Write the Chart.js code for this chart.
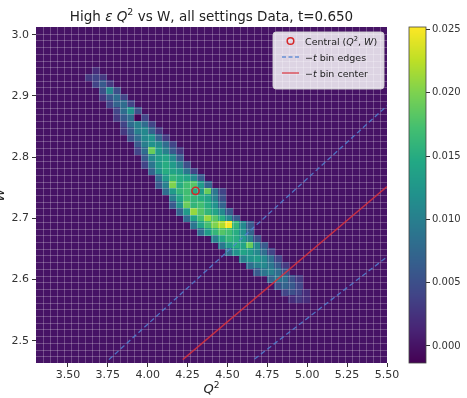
<!DOCTYPE html>
<html><head><meta charset="utf-8">
<script src="https://cdn.jsdelivr.net/npm/chart.js@4.4.0/dist/chart.umd.min.js"></script>
<style>
html,body{margin:0;padding:0;background:#fff;}
#wrap{position:relative;width:467px;height:398px;overflow:hidden;}
#main{position:absolute;left:0;top:0;}
#cbar{position:absolute;left:400px;top:0;}
</style></head><body>
<div id="wrap"><canvas id="main" width="467" height="398"></canvas><canvas id="cbar" width="67" height="398"></canvas></div>
<script>
// ---- data ----
const Q2_RANGE = [3.30, 5.50];
const W_RANGE = [2.4635, 3.0128];
const N_Q2_BINS = 50;
const N_W_BINS = 50;
const xTicks = [3.50, 3.75, 4.00, 4.25, 4.50, 4.75, 5.00, 5.25, 5.50];
const yTicks = [2.5, 2.6, 2.7, 2.8, 2.9, 3.0];
const cbTicks = [0.000, 0.005, 0.010, 0.015, 0.020, 0.025];
const CB_RANGE = [-0.00135, 0.0252];
// histogram rows (row index counted from the top W bin), first Q2 bin, values
const bandRows = [6,7,8,9,10,11,12,13,14,15,16,17,18,19,20,21,22,23,24,25,26,27,28,29,30,31,32,33,34,35,36,37,38,39,40];
const bandStartCol = [8,7,8,9,9,10,11,11,12,12,13,14,14,15,15,16,17,17,18,19,19,20,21,22,23,25,26,27,29,30,31,33,34,35,36];
const bandValues = [
  [0.002],
  [0.003,0.004,0.003],
  [0.004,0.006,0.003],
  [0.005,0.011,0.005],
  [0.003,0.006,0.008,0.004],
  [0.004,0.007,0.008,0.004],
  [0.004,0.008,0.012,0.005],
  [0.003,0.006,0.008,-0.0012,0.004],
  [0.004,0.008,0.010,0.008,0.004],
  [0.003,0.006,0.010,0.011,0.007,0.003],
  [0.005,0.008,0.011,0.012,0.007,0.003],
  [0.006,0.010,0.012,0.011,0.008,0.004],
  [0.004,0.008,0.019,0.013,0.010,0.006,0.003],
  [0.006,0.011,0.013,0.014,0.011,0.006],
  [0.004,0.009,0.013,0.015,0.013,0.010,0.005],
  [0.007,0.012,0.015,0.014,0.013,0.009,0.004],
  [0.008,0.013,0.016,0.015,0.014,0.011,0.006],
  [0.006,0.010,0.020,0.015,0.017,0.018,0.013,0.007],
  [0.008,0.013,0.016,0.017,0.015,0.013,0.019,0.009,0.004],
  [0.010,0.014,0.017,0.016,0.015,0.014,0.010,0.005],
  [0.006,0.012,0.019,0.016,0.017,0.015,0.012,0.007],
  [0.007,0.013,0.021,0.018,0.016,0.014,0.011,0.006],
  [0.008,0.014,0.017,0.021,0.018,0.015,0.011,0.006],
  [0.009,0.014,0.017,0.020,0.022,0.025,0.016,0.011,0.006],
  [0.008,0.013,0.016,0.018,0.017,0.015,0.012,0.007],
  [0.010,0.014,0.016,0.015,0.013,0.010,0.005],
  [0.009,0.013,0.015,0.014,0.019,0.011,0.006],
  [0.008,0.012,0.014,0.013,0.011,0.008,0.004],
  [0.010,0.012,0.013,0.011,0.008,0.004],
  [0.008,0.010,0.011,0.009,0.006,0.003],
  [0.006,0.009,0.010,0.008,0.005],
  [0.007,0.009,0.008,0.005,0.003],
  [0.005,0.007,0.006,0.004],
  [0.004,0.005,0.004,0.002],
  [0.002,0.003,0.002]
];
const centralPoint = [4.30, 2.745];
const tEdgeUpper = [[3.757, 2.469], [5.50, 2.884]];
const tEdgeLower = [[4.67, 2.470], [5.50, 2.637]];
const tCenterLine = [[4.22, 2.469], [5.50, 2.752]];

// ---- helpers ----
const FONT = "'DejaVu Sans', 'Liberation Sans', sans-serif";
const VIR = [[68,1,84],[72,36,117],[65,68,135],[53,95,141],[42,120,142],[33,145,140],[34,168,132],[68,191,112],[122,209,81],[189,223,38],[253,231,37]];
function viridis(t){
  t = Math.max(0, Math.min(1, t));
  const f = t*10, i = Math.min(9, Math.floor(f)), u = f - i;
  const a = VIR[i], b = VIR[i+1];
  return 'rgb(' + [0,1,2].map(k => Math.round(a[k] + (b[k]-a[k])*u)).join(',') + ')';
}
function cmap(v){ return viridis((v - CB_RANGE[0]) / (CB_RANGE[1] - CB_RANGE[0])); }
function runFont(r, size){ return (r.i ? 'italic ' : '') + (r.s ? size*0.7 : size) + 'px ' + FONT; }
function runsWidth(ctx, runs, size){
  let w = 0; runs.forEach(r => { ctx.font = runFont(r, size); w += ctx.measureText(r.t).width; }); return w;
}
function drawRuns(ctx, runs, x, y, size, align){
  let w = runsWidth(ctx, runs, size);
  let cx = align === 'center' ? x - w/2 : x;
  ctx.textAlign = 'left'; ctx.textBaseline = 'alphabetic';
  runs.forEach(r => {
    ctx.font = runFont(r, size);
    ctx.fillText(r.t, cx, r.s ? y - size*0.4 : y);
    cx += ctx.measureText(r.t).width;
  });
}
const pts = arr => arr.map(p => ({x: p[0], y: p[1]}));

const heatmapPlugin = {
  id: 'heatmap',
  beforeDatasetsDraw(chart){
    const {ctx, chartArea: a, scales: {x, y}} = chart;
    const dq = (Q2_RANGE[1]-Q2_RANGE[0]) / N_Q2_BINS;
    const dw = (W_RANGE[1]-W_RANGE[0]) / N_W_BINS;
    ctx.save();
    ctx.beginPath(); ctx.rect(a.left, a.top, a.right-a.left, a.bottom-a.top); ctx.clip();
    ctx.fillStyle = cmap(0);
    ctx.fillRect(a.left, a.top, a.right-a.left, a.bottom-a.top);
    bandRows.forEach((r, k) => {
      const wHi = W_RANGE[1] - r*dw, wLo = wHi - dw;
      const py0 = y.getPixelForValue(wHi), py1 = y.getPixelForValue(wLo);
      bandValues[k].forEach((v, j) => {
        const c = bandStartCol[k] + j;
        const qLo = Q2_RANGE[0] + c*dq, qHi = qLo + dq;
        const px0 = x.getPixelForValue(qLo), px1 = x.getPixelForValue(qHi);
        ctx.fillStyle = cmap(v);
        ctx.fillRect(Math.floor(px0), Math.floor(py0), Math.ceil(px1)-Math.floor(px0), Math.ceil(py1)-Math.floor(py0));
      });
    });
    ctx.strokeStyle = 'rgba(255,255,255,0.24)';
    ctx.lineWidth = 1;
    ctx.beginPath();
    for (let i = 1; i < N_Q2_BINS; i++){
      const px = Math.round(x.getPixelForValue(Q2_RANGE[0] + i*dq)) + 0.5;
      ctx.moveTo(px, a.top); ctx.lineTo(px, a.bottom);
    }
    for (let i = 1; i < N_W_BINS; i++){
      const py = Math.round(y.getPixelForValue(W_RANGE[0] + i*dw)) + 0.5;
      ctx.moveTo(a.left, py); ctx.lineTo(a.right, py);
    }
    ctx.stroke();
    ctx.restore();
  },
  afterDraw(chart){
    const {ctx, chartArea: a} = chart;
    ctx.save();
    ctx.fillStyle = '#222';
    drawRuns(ctx, [{t:'High '},{t:'ε',i:1},{t:' '},{t:'Q',i:1},{t:'2',s:1},{t:' vs W, all settings Data, t=0.650'}], (a.left+a.right)/2, 20.5, 13.5, 'center');
    drawRuns(ctx, [{t:'Q',i:1},{t:'2',s:1}], (a.left+a.right)/2, 393, 13, 'center');
    ctx.save();
    ctx.translate(3.5, (a.top+a.bottom)/2); ctx.rotate(-Math.PI/2);
    ctx.font = 'italic 13px ' + FONT; ctx.textAlign = 'center'; ctx.fillText('W', 0, 0);
    ctx.restore();
    // legend
    const lx = a.right - 114, ly = a.top + 5, lw = 111, lh = 57;
    ctx.beginPath(); ctx.roundRect(lx, ly, lw, lh, 3);
    ctx.fillStyle = 'rgba(255,255,255,0.82)'; ctx.fill();
    ctx.strokeStyle = 'rgba(210,210,210,0.9)'; ctx.lineWidth = 1; ctx.stroke();
    const hx0 = lx + 9, hx1 = lx + 26, tx = lx + 32;
    const rows = [ly + 9, ly + 25, ly + 41];
    ctx.beginPath(); ctx.arc((hx0+hx1)/2, rows[0], 3.3, 0, Math.PI*2);
    ctx.strokeStyle = '#d62728'; ctx.lineWidth = 1.5; ctx.stroke();
    ctx.beginPath(); ctx.setLineDash([4,2.5]); ctx.moveTo(hx0, rows[1]); ctx.lineTo(hx1, rows[1]);
    ctx.strokeStyle = 'rgba(80,130,210,0.85)'; ctx.lineWidth = 1.4; ctx.stroke(); ctx.setLineDash([]);
    ctx.beginPath(); ctx.moveTo(hx0, rows[2]); ctx.lineTo(hx1, rows[2]);
    ctx.strokeStyle = 'rgba(220,50,60,0.85)'; ctx.lineWidth = 1.4; ctx.stroke();
    ctx.fillStyle = '#222';
    drawRuns(ctx, [{t:'Central ('},{t:'Q',i:1},{t:'2',s:1},{t:', '},{t:'W',i:1},{t:')'}], tx, rows[0]+3.5, 9.5, 'left');
    drawRuns(ctx, [{t:'−'},{t:'t',i:1},{t:' bin edges'}], tx, rows[1]+3.5, 9.5, 'left');
    drawRuns(ctx, [{t:'−'},{t:'t',i:1},{t:' bin center'}], tx, rows[2]+3.5, 9.5, 'left');
    ctx.restore();
  }
};

const tickFont = {family: FONT, size: 11};
new Chart(document.getElementById('main'), {
  type: 'scatter',
  data: {
    datasets: [
      {label: '-t bin edges', type: 'line', data: pts(tEdgeUpper), borderColor: 'rgba(80,130,210,0.85)', borderWidth: 1.3, borderDash: [5,3], pointRadius: 0, fill: false},
      {label: '-t bin edges 2', type: 'line', data: pts(tEdgeLower), borderColor: 'rgba(80,130,210,0.85)', borderWidth: 1.3, borderDash: [5,3], pointRadius: 0, fill: false},
      {label: '-t bin center', type: 'line', data: pts(tCenterLine), borderColor: 'rgba(220,50,60,0.85)', borderWidth: 1.4, pointRadius: 0, fill: false},
      {label: 'Central', data: [{x: centralPoint[0], y: centralPoint[1]}], pointStyle: 'circle', pointRadius: 3.6, backgroundColor: 'rgba(0,0,0,0)', borderColor: '#d62728', borderWidth: 1.5}
    ]
  },
  options: {
    responsive: false, animation: false, devicePixelRatio: 1,
    layout: {padding: {left: 0, right: 80, top: 27, bottom: 0}},
    plugins: {legend: {display: false}, tooltip: {enabled: false}, title: {display: false}},
    scales: {
      x: {type: 'linear', min: Q2_RANGE[0], max: Q2_RANGE[1],
        afterBuildTicks: s => { s.ticks = xTicks.map(v => ({value: v})); },
        afterFit: s => { s.height = 35; },
        ticks: {callback: v => Number(v).toFixed(2), font: tickFont, color: '#333', padding: 2, maxRotation: 0, autoSkip: false},
        grid: {drawOnChartArea: false, tickLength: 4, color: '#333'}, border: {display: false}},
      y: {type: 'linear', min: W_RANGE[0], max: W_RANGE[1],
        afterBuildTicks: s => { s.ticks = yTicks.map(v => ({value: v})); },
        afterFit: s => { s.width = 36; },
        ticks: {callback: v => Number(v).toFixed(1), font: tickFont, color: '#333', padding: 3, autoSkip: false},
        grid: {drawOnChartArea: false, tickLength: 4, color: '#333'}, border: {display: false}}
    }
  },
  plugins: [heatmapPlugin]
});

const cbarPlugin = {
  id: 'cbar',
  beforeDatasetsDraw(chart){
    const {ctx, chartArea: a, scales: {y}} = chart;
    ctx.save();
    for (let py = Math.floor(a.top); py < Math.ceil(a.bottom); py++){
      ctx.fillStyle = cmap(y.getValueForPixel(py + 0.5));
      ctx.fillRect(a.left, py, a.right - a.left, 1);
    }
    ctx.strokeStyle = '#444'; ctx.lineWidth = 0.8;
    ctx.strokeRect(a.left, a.top, a.right - a.left, a.bottom - a.top);
    ctx.restore();
  }
};
new Chart(document.getElementById('cbar'), {
  type: 'scatter',
  data: {datasets: []},
  options: {
    responsive: false, animation: false, devicePixelRatio: 1,
    layout: {padding: {left: 9, right: 0, top: 27, bottom: 35}},
    plugins: {legend: {display: false}, tooltip: {enabled: false}},
    scales: {
      x: {display: false, min: 0, max: 1},
      y: {type: 'linear', position: 'right', min: CB_RANGE[0], max: CB_RANGE[1],
        afterBuildTicks: s => { s.ticks = cbTicks.map(v => ({value: v})); },
        afterFit: s => { s.width = 41; },
        ticks: {callback: v => Number(v).toFixed(3), font: {family: FONT, size: 10}, color: '#333', padding: 2, autoSkip: false},
        grid: {drawOnChartArea: false, tickLength: 4, color: '#333'}, border: {display: false}}
    }
  },
  plugins: [cbarPlugin]
});
</script>
</body></html>
